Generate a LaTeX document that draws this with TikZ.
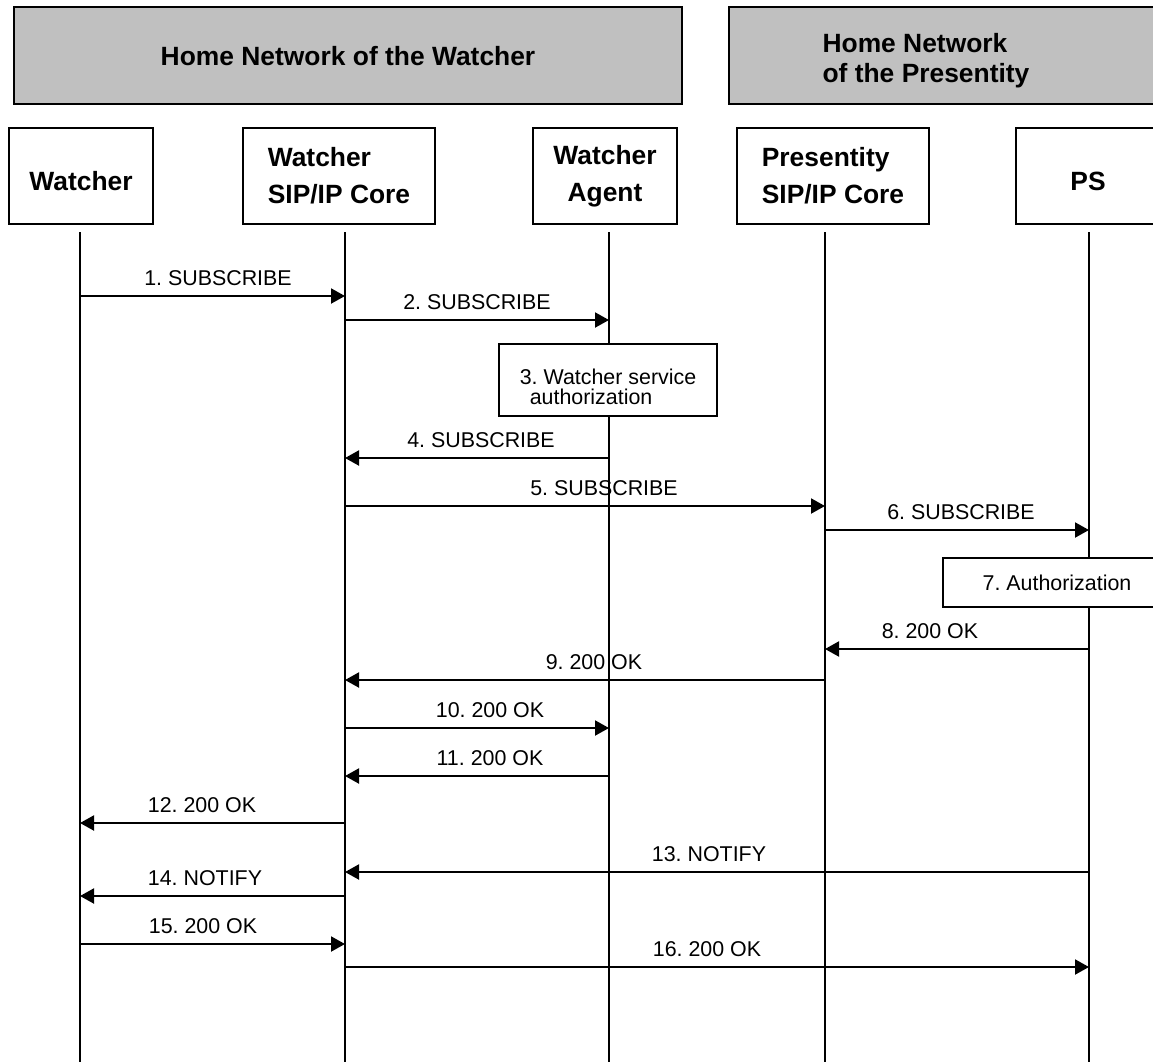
\documentclass[tikz,border=0pt]{standalone}
\usepackage{fontspec}
\setmainfont{Liberation Sans}
\usetikzlibrary{arrows.meta}
\definecolor{netgray}{RGB}{192,192,192}
\frenchspacing

\begin{document}
\begin{tikzpicture}[x=0.5pt,y=-0.5pt,
  netbox/.style={draw,line width=1pt,fill=netgray},
  nettext/.style={font=\fontsize{13.2}{15}\selectfont\bfseries,align=left,inner sep=0pt},
  entity/.style={draw,line width=1pt,fill=white,minimum height=48pt,inner sep=0pt,
    font=\fontsize{13.2}{18.5}\selectfont\bfseries},
  lifeline/.style={line width=0.9pt},
  msg/.style={line width=1pt,-{Triangle[length=7pt,width=7.5pt]}},
  msglabel/.style={font=\fontsize{10.7}{12}\selectfont,anchor=base,inner sep=0pt},
  action/.style={draw,line width=1pt,fill=white,inner sep=0pt,
    font=\fontsize{10.7}{10}\selectfont}]
\useasboundingbox (0,0) rectangle (1153,1062);
\clip (0,0) rectangle (1153,1062);
  % Draw network headers
  \draw[netbox] (14,7) rectangle (682,104);
  \draw[netbox] (729,7) rectangle (1180,104);
  \node[nettext] (hwat) at (348,56) {Home Network of the Watcher};
  \node[nettext] (hpres) at (926,61) {Home Network\\of the Presentity};
  % Draw entities
  \node[entity,minimum width=72pt,text height=14.5pt] (wat) at (81,176) {Watcher};
  \node[entity,minimum width=96pt,align=left] (core) at (339,176) {Watcher\\SIP/IP Core};
  \node[entity,minimum width=72pt,align=center] (agent) at (605,176) {Watcher\\Agent};
  \node[entity,minimum width=96pt,align=left] (pres) at (833,176) {Presentity\\SIP/IP Core};
  \node[entity,minimum width=72pt,text height=14.5pt] (ps) at (1088,176) {PS};
  % Draw lifelines
  \foreach \n/\x in {wat/80,core/345,agent/609,pres/825,ps/1089} {
    \coordinate (\n-top) at (\x,232);
    \coordinate (\n-bot) at (\x,1062);
    \draw[lifeline] (\n-top) -- (\n-bot);
  }
  % Draw messages
  \foreach \i/\a/\b/\y/\lx/\txt in {
      1/wat/core/296/218/1. SUBSCRIBE,
      2/core/agent/320/477/2. SUBSCRIBE,
      4/agent/core/458/481/4. SUBSCRIBE,
      5/core/pres/506/604/5. SUBSCRIBE,
      6/pres/ps/530/961/6. SUBSCRIBE,
      8/ps/pres/649/930/8. 200 OK,
      9/pres/core/680/594/9. 200 OK,
      10/core/agent/728/490/10. 200 OK,
      11/agent/core/776/490/11. 200 OK,
      12/core/wat/823/202/12. 200 OK,
      13/ps/core/872/709/13. NOTIFY,
      14/core/wat/896/205/14. NOTIFY,
      15/wat/core/944/203/15. 200 OK,
      16/core/ps/967/707/16. 200 OK} {
    \draw[msg] (\a-top |- 0,\y) -- (\b-top |- 0,\y);
    \node[msglabel] (lbl\i) at (\lx,\y-10.5) {\txt};
  }
  % Draw local actions
  \node[action,minimum width=109pt,minimum height=36pt,align=left,text height=24.5pt] (auth3) at (608,380)
    {3. Watcher service\\\hspace*{5pt}authorization};
  \node[action,minimum width=114pt,minimum height=24.5pt] (auth7) at (1057,582.5)
    {7. Authorization};
\end{tikzpicture}
\end{document}
